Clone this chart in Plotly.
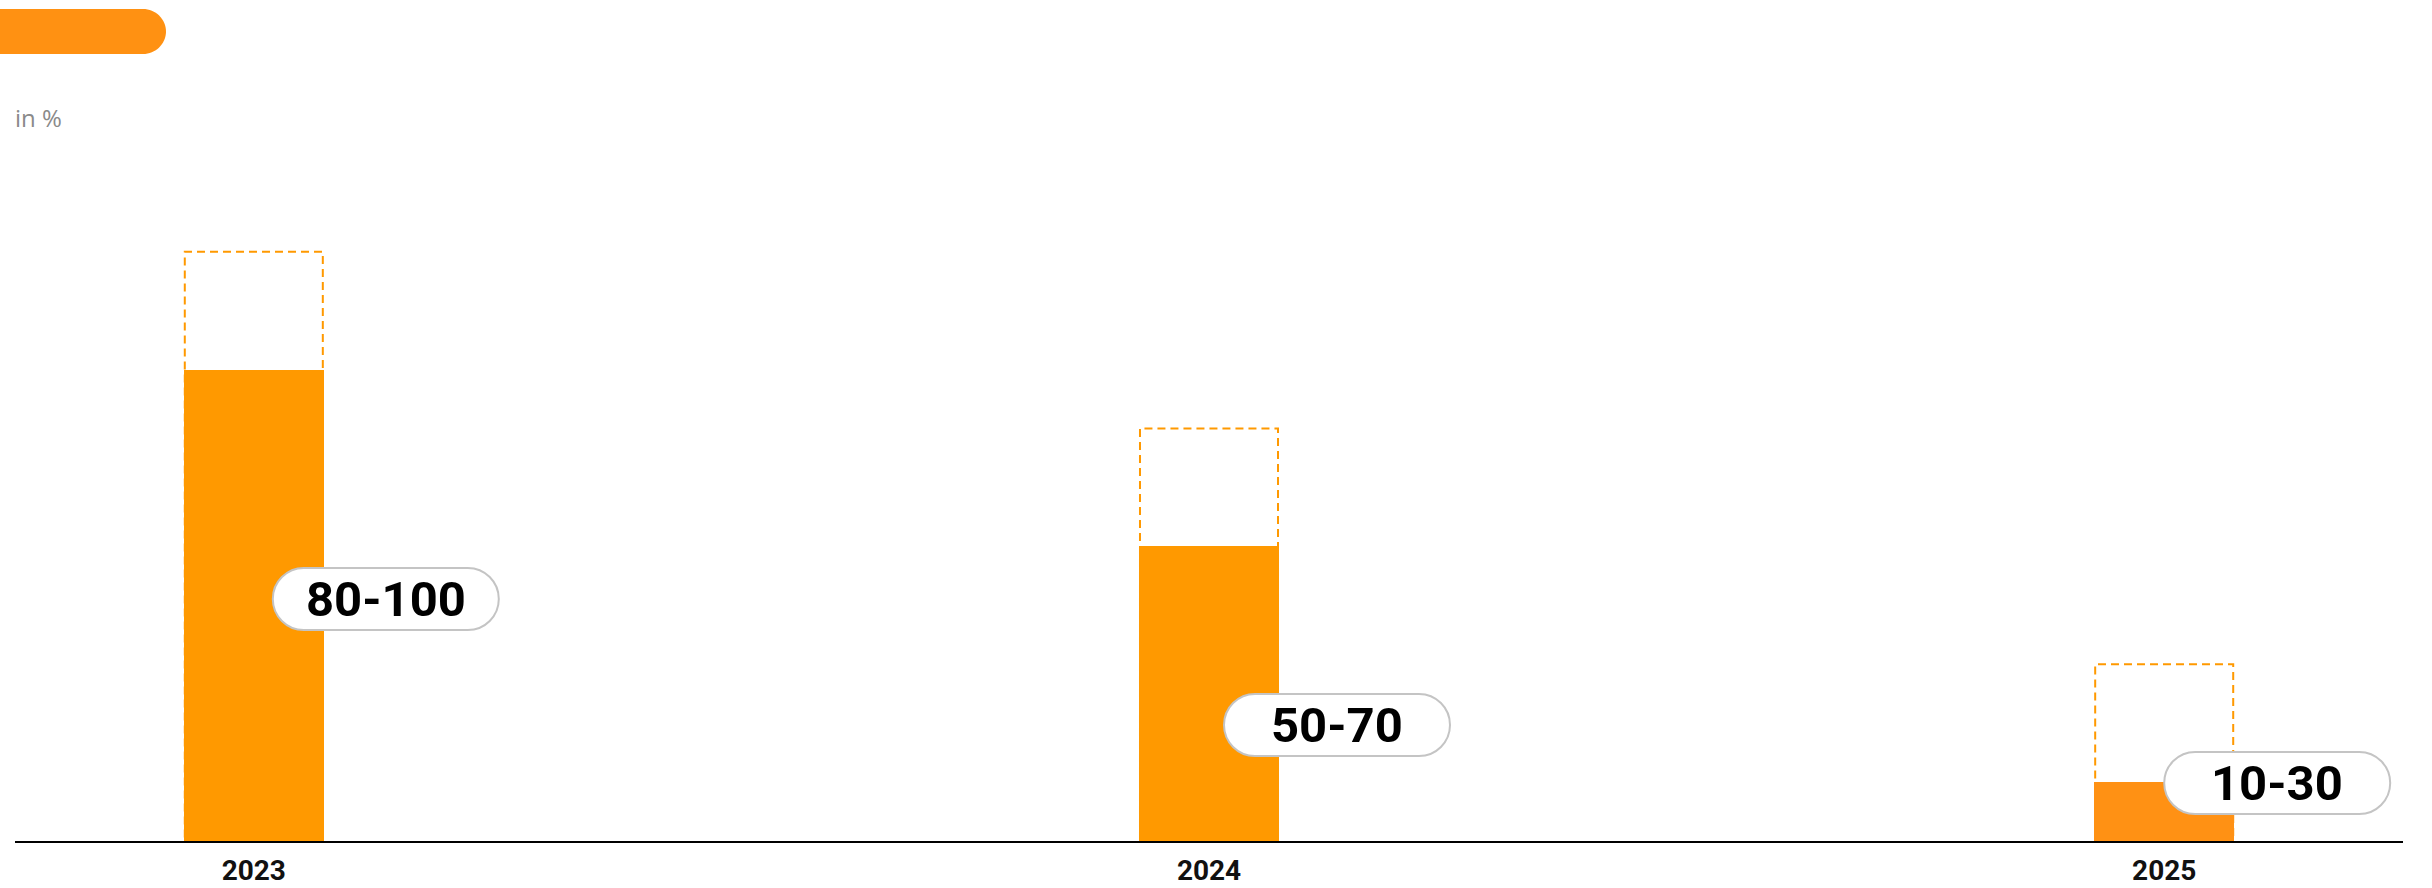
import plotly.graph_objects as go

# ---- data ----
years = ["2023", "2024", "2025"]
low_values = [80, 50, 10]
high_values = [100, 70, 30]
range_labels = ["80-100", "50-70", "10-30"]
unit_label = "in %"

# ---- style ----
W, H = 2432, 888
ML, MR, MT, MB = 15, 29, 134, 47
X_RANGE = [-0.25, 2.25]
Y_RANGE = [0, 120]
BAR_W = 0.1465
bar_colors = ["#ff9900", "#ff9900", "#ff9114"]
dash_color = "#ff9900"
px_per_x = (W - ML - MR) / (X_RANGE[1] - X_RANGE[0])
px_per_y = (H - MT - MB) / (Y_RANGE[1] - Y_RANGE[0])
# label pill placement (pixel offsets from bar centre / baseline)
label_dx_px = [132, 128, 113]
label_y_px = [242, 116, 58]
PILL_W, PILL_H = 226, 62

x_idx = list(range(len(years)))

fig = go.Figure()
fig.add_trace(go.Bar(
    x=x_idx, y=low_values, width=BAR_W,
    marker=dict(color=bar_colors, line=dict(width=0)),
    hoverinfo="skip", showlegend=False,
))

shapes = []
# dashed boxes to the upper bound
for i, hv in zip(x_idx, high_values):
    shapes.append(dict(
        type="rect", xref="x", yref="y", layer="below",
        x0=i - BAR_W / 2 + 0.001, x1=i + BAR_W / 2 - 0.001, y0=0, y1=hv,
        line=dict(color=dash_color, width=2, dash="8px,5px"),
        fillcolor="rgba(0,0,0,0)",
    ))


def pill_path(w, h):
    r = h / 2
    k = 0.5523 * r
    a = w / 2 - r
    b = w / 2
    return (
        f"M {-a},{-r} L {a},{-r} "
        f"C {a + k},{-r} {b},{-k} {b},0 "
        f"C {b},{k} {a + k},{r} {a},{r} "
        f"L {-a},{r} "
        f"C {-a - k},{r} {-b},{k} {-b},0 "
        f"C {-b},{-k} {-a - k},{-r} {-a},{-r} Z"
    )


annotations = []
for i, lab, dx, ly in zip(x_idx, range_labels, label_dx_px, label_y_px):
    xa = i + dx / px_per_x
    ya = ly / px_per_y
    shapes.append(dict(
        type="path", xref="x", yref="y", layer="above",
        xsizemode="pixel", ysizemode="pixel", xanchor=xa, yanchor=ya,
        path=pill_path(PILL_W, PILL_H),
        fillcolor="white", line=dict(color="#c4c4c4", width=2),
    ))
    annotations.append(dict(
        x=xa, y=ya, xref="x", yref="y", text=f"<b>{lab}</b>", showarrow=False,
        font=dict(family="Roboto", size=49, color="#000000"),
        xanchor="center", yanchor="middle",
    ))

# top orange tab
shapes.append(dict(
    type="path", xref="paper", yref="paper",
    xsizemode="pixel", ysizemode="pixel", xanchor=0, yanchor=1,
    path=(f"M -20,80 L 128,80 C 140.4,80 151,90 151,102.5 "
          f"C 151,115 140.4,125 128,125 L -20,125 Z"),
    fillcolor="#ff9112", line=dict(width=0),
))

annotations.append(dict(
    x=0, y=1, xref="paper", yref="paper", text=unit_label, showarrow=False,
    xanchor="left", yanchor="middle", yshift=17, xshift=-2,
    font=dict(family="Open Sans", size=24, color="#8a8a8a"),
))

fig.update_layout(
    width=W, height=H,
    margin=dict(l=ML, r=MR, t=MT, b=MB, pad=0, autoexpand=False),
    paper_bgcolor="white", plot_bgcolor="white",
    shapes=shapes, annotations=annotations,
    xaxis=dict(
        range=X_RANGE, tickvals=x_idx, ticktext=[f"<b>{y}</b>" for y in years],
        showline=True, linecolor="#000000", linewidth=2,
        showgrid=False, zeroline=False, ticks="", ticklabelstandoff=3,
        tickfont=dict(family="Roboto", size=28, color="#111111"),
        fixedrange=True, automargin=False,
    ),
    yaxis=dict(range=Y_RANGE, visible=False, showgrid=False, fixedrange=True,
               automargin=False),
    bargap=0,
)

fig.write_html("out.html", config={"displayModeBar": False})
